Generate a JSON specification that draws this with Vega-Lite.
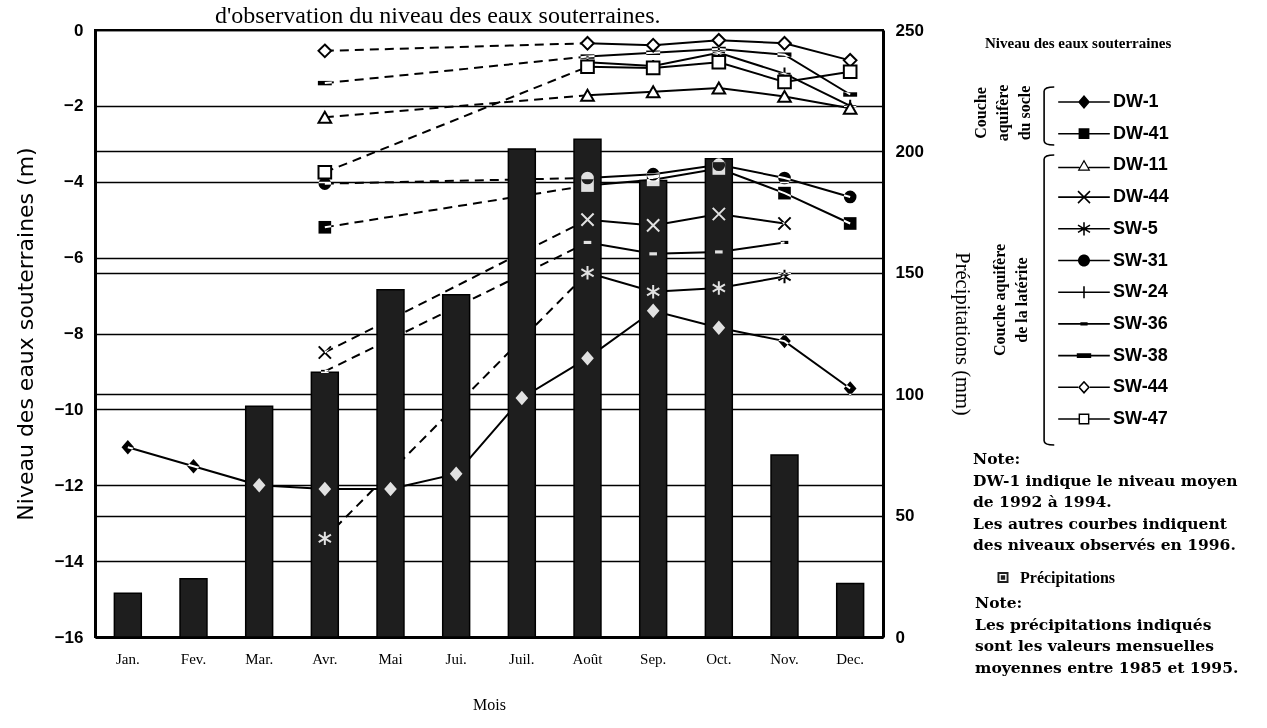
{
  "$schema": "https://vega.github.io/schema/vega-lite/v6.json",
  "width": 788,
  "height": 607,
  "autosize": {"type": "none"},
  "padding": {"left": 95, "top": 30, "right": 384, "bottom": 91},
  "background": "white",
  "title": {"text": "d'observation du niveau des eaux souterraines.", "anchor": "start", "frame": "group", "dx": 120, "dy": 30, "offset": 4, "baseline": "alphabetic", "font": "Liberation Serif", "fontSize": 24, "fontWeight": "normal", "color": "black"},
  "config": {
    "view": {"stroke": "black", "strokeWidth": 2},
    "axis": {"ticks": false, "domainColor": "black", "gridColor": "black", "gridOpacity": 1, "labelColor": "black", "titleColor": "black"}
  },
  "datasets": {
    "precip": [
      {"month": "Jan.", "precip": 18}, {"month": "Fev.", "precip": 24}, {"month": "Mar.", "precip": 95},
      {"month": "Avr.", "precip": 109}, {"month": "Mai", "precip": 143}, {"month": "Jui.", "precip": 141},
      {"month": "Juil.", "precip": 201}, {"month": "Août", "precip": 205}, {"month": "Sep.", "precip": 188},
      {"month": "Oct.", "precip": 197}, {"month": "Nov.", "precip": 75}, {"month": "Dec.", "precip": 22}
    ],
    "levels": [
      {"series": "DW-1", "month": "Jan.", "level": -11.0},
      {"series": "DW-1", "month": "Fev.", "level": -11.5},
      {"series": "DW-1", "month": "Mar.", "level": -12.0},
      {"series": "DW-1", "month": "Avr.", "level": -12.1},
      {"series": "DW-1", "month": "Mai", "level": -12.1},
      {"series": "DW-1", "month": "Jui.", "level": -11.7},
      {"series": "DW-1", "month": "Juil.", "level": -9.7},
      {"series": "DW-1", "month": "Août", "level": -8.65},
      {"series": "DW-1", "month": "Sep.", "level": -7.4},
      {"series": "DW-1", "month": "Oct.", "level": -7.85},
      {"series": "DW-1", "month": "Nov.", "level": -8.2},
      {"series": "DW-1", "month": "Dec.", "level": -9.45},
      {"series": "DW-41", "month": "Avr.", "level": -5.2},
      {"series": "DW-41", "month": "Août", "level": -4.1},
      {"series": "DW-41", "month": "Sep.", "level": -3.95},
      {"series": "DW-41", "month": "Oct.", "level": -3.65},
      {"series": "DW-41", "month": "Nov.", "level": -4.3},
      {"series": "DW-41", "month": "Dec.", "level": -5.1},
      {"series": "DW-11", "month": "Avr.", "level": -2.3},
      {"series": "DW-11", "month": "Août", "level": -1.72},
      {"series": "DW-11", "month": "Sep.", "level": -1.63},
      {"series": "DW-11", "month": "Oct.", "level": -1.53},
      {"series": "DW-11", "month": "Nov.", "level": -1.75},
      {"series": "DW-11", "month": "Dec.", "level": -2.06},
      {"series": "DW-44", "month": "Avr.", "level": -8.5},
      {"series": "DW-44", "month": "Août", "level": -5.0},
      {"series": "DW-44", "month": "Sep.", "level": -5.15},
      {"series": "DW-44", "month": "Oct.", "level": -4.85},
      {"series": "DW-44", "month": "Nov.", "level": -5.1},
      {"series": "SW-5", "month": "Avr.", "level": -13.4},
      {"series": "SW-5", "month": "Août", "level": -6.4},
      {"series": "SW-5", "month": "Sep.", "level": -6.9},
      {"series": "SW-5", "month": "Oct.", "level": -6.8},
      {"series": "SW-5", "month": "Nov.", "level": -6.5},
      {"series": "SW-31", "month": "Avr.", "level": -4.05},
      {"series": "SW-31", "month": "Août", "level": -3.9},
      {"series": "SW-31", "month": "Sep.", "level": -3.8},
      {"series": "SW-31", "month": "Oct.", "level": -3.55},
      {"series": "SW-31", "month": "Nov.", "level": -3.9},
      {"series": "SW-31", "month": "Dec.", "level": -4.4},
      {"series": "SW-24", "month": "Août", "level": -0.85},
      {"series": "SW-24", "month": "Sep.", "level": -0.95},
      {"series": "SW-24", "month": "Oct.", "level": -0.6},
      {"series": "SW-24", "month": "Nov.", "level": -1.15},
      {"series": "SW-24", "month": "Dec.", "level": -2.0},
      {"series": "SW-36", "month": "Avr.", "level": -9.0},
      {"series": "SW-36", "month": "Août", "level": -5.6},
      {"series": "SW-36", "month": "Sep.", "level": -5.9},
      {"series": "SW-36", "month": "Oct.", "level": -5.85},
      {"series": "SW-36", "month": "Nov.", "level": -5.6},
      {"series": "SW-38", "month": "Avr.", "level": -1.4},
      {"series": "SW-38", "month": "Août", "level": -0.7},
      {"series": "SW-38", "month": "Sep.", "level": -0.6},
      {"series": "SW-38", "month": "Oct.", "level": -0.5},
      {"series": "SW-38", "month": "Nov.", "level": -0.65},
      {"series": "SW-38", "month": "Dec.", "level": -1.7},
      {"series": "SW-44", "month": "Avr.", "level": -0.55},
      {"series": "SW-44", "month": "Août", "level": -0.35},
      {"series": "SW-44", "month": "Sep.", "level": -0.4},
      {"series": "SW-44", "month": "Oct.", "level": -0.27},
      {"series": "SW-44", "month": "Nov.", "level": -0.35},
      {"series": "SW-44", "month": "Dec.", "level": -0.8},
      {"series": "SW-47", "month": "Avr.", "level": -3.75},
      {"series": "SW-47", "month": "Août", "level": -0.97},
      {"series": "SW-47", "month": "Sep.", "level": -1.0},
      {"series": "SW-47", "month": "Oct.", "level": -0.85},
      {"series": "SW-47", "month": "Nov.", "level": -1.37},
      {"series": "SW-47", "month": "Dec.", "level": -1.1}
    ]
  },
  "layer": [
    {
      "data": {"name": "levels"},
      "encoding": {
        "x": {"field": "month", "type": "ordinal",
          "scale": {"domain": ["Jan.", "Fev.", "Mar.", "Avr.", "Mai", "Jui.", "Juil.", "Août", "Sep.", "Oct.", "Nov.", "Dec."], "paddingInner": 0.59, "paddingOuter": 0.295},
          "axis": {"title": "Mois", "labelAngle": 0, "labelFont": "Liberation Serif", "labelFontSize": 15, "labelPadding": 14, "titleFont": "Liberation Serif", "titleFontSize": 16, "titleFontWeight": "normal", "titlePadding": 30, "domainWidth": 3}},
        "y": {"field": "level", "type": "quantitative",
          "scale": {"domain": [-16, 0], "nice": false, "zero": false},
          "axis": {"orient": "left", "title": "Niveau des eaux souterraines (m)", "values": [0, -2, -4, -6, -8, -10, -12, -14, -16], "grid": true, "gridWidth": 1.3, "domainWidth": 3, "labelFont": "Liberation Sans", "labelFontSize": 17, "labelFontWeight": "bold", "labelPadding": 12, "titleFont": "DejaVu Sans", "titleFontSize": 22, "titleFontWeight": "normal", "titlePadding": 17}},
        "detail": {"field": "series"},
        "order": {"value": null}
      },
      "layer": [
        {"transform": [{"filter": "datum.series != 'DW-1' && (datum.month == 'Avr.' || datum.month == 'Août')"}],
         "mark": {"type": "line", "color": "black", "strokeWidth": 2, "strokeDash": [9, 6]}},
        {"transform": [{"filter": "datum.series == 'DW-1' || datum.month != 'Avr.'"}],
         "mark": {"type": "line", "color": "black", "strokeWidth": 2}}
      ]
    },
    {
      "data": {"name": "precip"},
      "mark": {"type": "bar", "stroke": "black", "strokeWidth": 1.5},
      "encoding": {
        "x": {"field": "month", "type": "ordinal"},
        "y": {"field": "precip", "type": "quantitative",
          "scale": {"domain": [0, 250], "nice": false},
          "axis": {"orient": "right", "title": "Précipitations (mm)", "values": [0, 50, 100, 150, 200, 250], "grid": true, "gridWidth": 1.3, "domainWidth": 3, "labelFont": "Liberation Sans", "labelFontSize": 17, "labelFontWeight": "bold", "labelPadding": 12, "titleFont": "Liberation Serif", "titleFontSize": 20.5, "titleFontWeight": "normal", "titlePadding": 28}},
        "fill": {"datum": "Précipitations", "scale": {"range": ["#1e1e1e"]},
          "legend": {"orient": "none", "legendX": 878, "legendY": 422, "padding": 0,
            "title": ["Note:", "DW-1 indique le niveau moyen", "de 1992 à 1994.", "Les autres courbes indiquent", "des niveaux observés en 1996."],
            "titleFont": "DejaVu Serif", "titleFontSize": 15.5, "titleFontWeight": "bold", "titleLineHeight": 21.5, "titlePadding": 16, "titleLimit": 400, "titleColor": "black",
            "labelFont": "Liberation Serif", "labelFontSize": 16, "labelFontWeight": "bold", "labelColor": "black", "labelLimit": 300,
            "symbolType": "M-1,-1H1V1H-1Z M-0.65,-0.65V0.65H0.65V-0.65Z M-0.4,-0.4H0.4V0.4H-0.4Z",
            "symbolSize": 121, "symbolOffset": 22, "labelOffset": 9, "symbolStrokeWidth": 0}}
      }
    },
    {
      "data": {"name": "levels"},
      "encoding": {
        "x": {"field": "month", "type": "ordinal"},
        "y": {"field": "level", "type": "quantitative", "scale": {"domain": [-16, 0], "nice": false, "zero": false}, "axis": null},
        "shape": {"field": "series", "type": "nominal", "legend": null,
          "scale": {"domain": ["DW-1", "DW-41", "DW-11", "DW-44", "SW-5", "SW-31", "SW-24", "SW-36", "SW-38", "SW-44", "SW-47"],
            "range": ["M0,-1.15L1,0L0,1.15L-1,0Z", "square", "triangle-up", "M-1,-1L1,1M-1,1L1,-1", "M0,-1.1V1.1M-1,-0.6L1,0.6M-1,0.6L1,-0.6", "circle", "M-1,0H1M0,-1V1", "M-0.6,-0.25H0.6V0.25H-0.6Z", "M-1.1,-0.35H1.1V0.35H-1.1Z", "M0,-1L1,0L0,1L-1,0Z", "square"]}}
      },
      "layer": [
        {"transform": [{"filter": "indexof(['DW-1','DW-41','SW-31','SW-36','SW-38'], datum.series) >= 0"}],
         "mark": {"type": "point", "filled": true, "color": "white", "opacity": 1, "size": 160, "blend": "difference"}},
        {"transform": [{"filter": "indexof(['DW-44','SW-5','SW-24'], datum.series) >= 0"}],
         "mark": {"type": "point", "filled": false, "color": "white", "opacity": 1, "size": 150, "strokeWidth": 2, "blend": "difference"}},
        {"transform": [{"filter": "indexof(['DW-11','SW-44','SW-47'], datum.series) >= 0"}],
         "mark": {"type": "point", "fill": "white", "stroke": "black", "opacity": 1, "size": 160, "strokeWidth": 2}}
      ]
    },
    {
      "data": {"name": "levels"},
      "transform": [{"filter": "false"}],
      "mark": {"type": "point", "filled": true, "color": "black", "opacity": 1},
      "encoding": {
        "shape": {"field": "series", "type": "nominal",
          "scale": {"domain": ["DW-1", "DW-41", "DW-11", "DW-44", "SW-5", "SW-31", "SW-24", "SW-36", "SW-38", "SW-44", "SW-47"],
            "range": [
              "M-4.3,-0.13H4.3V0.13H-4.3Z M0,-1.15L1,0L0,1.15L-1,0Z",
              "M-4.3,-0.13H4.3V0.13H-4.3Z M-0.9,-0.9H0.9V0.9H-0.9Z",
              "M-4.3,0.22H-0.75V0.48H-4.3Z M0.75,0.22H4.3V0.48H0.75Z M0,-1L1.05,0.9H-1.05Z M0,-0.55L-0.72,0.68H0.72Z",
              "M-4.3,-0.13H4.3V0.13H-4.3Z M-0.908,-1.092L1.092,0.908L0.908,1.092L-1.092,-0.908Z M-1.092,0.908L0.908,-1.092L1.092,-0.908L-0.908,1.092Z",
              "M-4.3,-0.13H4.3V0.13H-4.3Z M-0.13,-1.1H0.13V1.1H-0.13Z M-0.933,-0.711L1.067,0.489L0.933,0.711L-1.067,-0.489Z M-1.067,0.489L0.933,-0.711L1.067,-0.489L-0.933,0.711Z",
              "M-4.3,-0.13H4.3V0.13H-4.3Z M-1,0A1,1 0 1,1 1,0A1,1 0 1,1 -1,0Z",
              "M-4.3,-0.13H4.3V0.13H-4.3Z M-0.13,-1H0.13V1H-0.13Z",
              "M-4.3,-0.13H4.3V0.13H-4.3Z M-0.6,-0.28H0.6V0.28H-0.6Z",
              "M-4.3,-0.13H4.3V0.13H-4.3Z M-1.2,-0.38H1.2V0.38H-1.2Z",
              "M-4.3,-0.13H-1V0.13H-4.3Z M1,-0.13H4.3V0.13H1Z M0,-1.1L1,0L0,1.1L-1,0Z M0,-0.72L-0.65,0L0,0.72L0.65,0Z",
              "M-4.3,-0.13H-0.9V0.13H-4.3Z M0.9,-0.13H4.3V0.13H0.9Z M-0.9,-0.9H0.9V0.9H-0.9Z M-0.66,-0.66V0.66H0.66V-0.66Z"]},
          "legend": {"orient": "none", "legendX": 890, "legendY": 6, "padding": 0,
            "title": "Niveau des eaux souterraines", "titleFont": "Liberation Serif", "titleFontSize": 15, "titleFontWeight": "bold", "titleColor": "black",
            "titlePadding": 42, "titleLimit": 400,
            "labelFont": "Liberation Sans", "labelFontSize": 18, "labelFontWeight": "bold", "labelColor": "black",
            "symbolSize": 144, "symbolOffset": 90, "labelOffset": 20, "rowPadding": 13.7,
            "symbolStrokeWidth": 0, "symbolFillColor": "black"}}
      }
    },
    {
      "data": {"values": [{}]},
      "mark": {"type": "text", "align": "center", "baseline": "middle", "angle": 270, "font": "Liberation Serif", "fontSize": 16, "fontWeight": "bold", "lineHeight": 22, "color": "black"},
      "encoding": {"x": {"value": 886}, "y": {"value": 83}, "text": {"value": ["Couche", "aquifère", "du socle"]}}
    },
    {
      "data": {"values": [{}]},
      "mark": {"type": "text", "align": "center", "baseline": "middle", "angle": 270, "font": "Liberation Serif", "fontSize": 16, "fontWeight": "bold", "lineHeight": 22, "color": "black"},
      "encoding": {"x": {"value": 905}, "y": {"value": 270}, "text": {"value": ["Couche aquifère", "de la latérite"]}}
    },
    {
      "data": {"values": [{}]},
      "mark": {"type": "point", "filled": false, "color": "black", "opacity": 1, "strokeWidth": 1.6, "size": 3364, "shape": "M0.25,-1Q-0.1,-1 -0.1,-0.85V0.85Q-0.1,1 0.25,1"},
      "encoding": {"x": {"value": 952}, "y": {"value": 86}}
    },
    {
      "data": {"values": [{}]},
      "mark": {"type": "point", "filled": false, "color": "black", "opacity": 1, "strokeWidth": 1.6, "size": 84100, "shape": "M0.05,-1Q-0.02,-1 -0.02,-0.97V0.97Q-0.02,1 0.05,1"},
      "encoding": {"x": {"value": 952}, "y": {"value": 270}}
    },
    {
      "data": {"values": [{}]},
      "mark": {"type": "text", "align": "left", "baseline": "top", "font": "DejaVu Serif", "fontSize": 15.5, "fontWeight": "bold", "lineHeight": 21.5, "color": "black"},
      "encoding": {"x": {"value": 880}, "y": {"value": 566}, "text": {"value": ["Note:", "Les précipitations indiqués", "sont les valeurs mensuelles", "moyennes entre 1985 et 1995."]}}
    }
  ],
  "resolve": {"scale": {"y": "independent", "shape": "independent"}}
}
